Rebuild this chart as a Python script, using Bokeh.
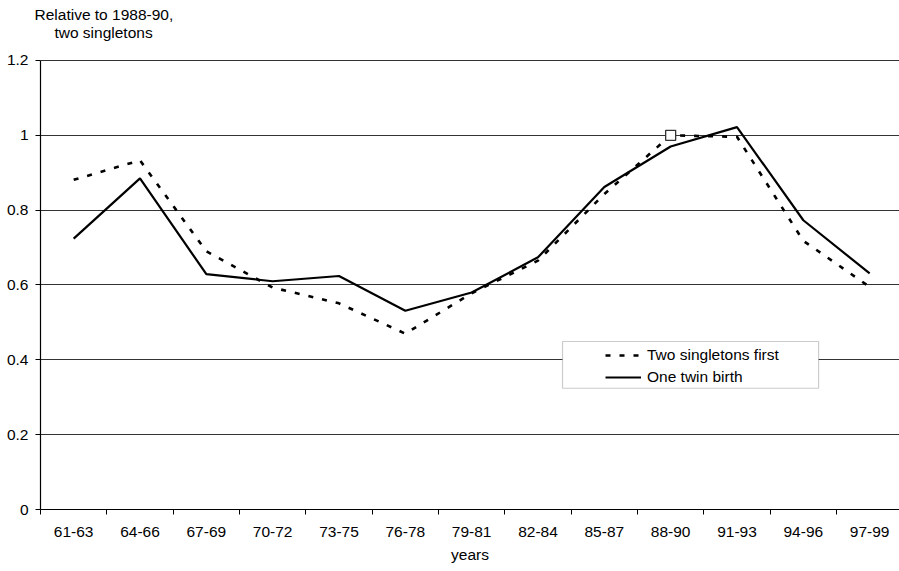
from bokeh.plotting import figure
from bokeh.models import (Range1d, FixedTicker, NumeralTickFormatter, Legend, LegendItem,
                          BoxAnnotation, Title, Label)
from bokeh.embed import file_html
from bokeh.resources import INLINE

categories = ["61-63", "64-66", "67-69", "70-72", "73-75", "76-78", "79-81",
              "82-84", "85-87", "88-90", "91-93", "94-96", "97-99"]
two_singletons_first = [0.881, 0.933, 0.690, 0.593, 0.551, 0.470, 0.578,
                        0.665, 0.843, 1.000, 0.996, 0.718, 0.595]
one_twin_birth = [0.724, 0.885, 0.629, 0.610, 0.624, 0.531, 0.580,
                  0.674, 0.862, 0.970, 1.022, 0.773, 0.631]
reference_category = "88-90"
y_ticks = [0, 0.2, 0.4, 0.6, 0.8, 1.0, 1.2]
y_title_lines = ["Relative to 1988-90,", "two singletons"]

FONT = "Liberation Sans"
FS = "15.5px"

n = len(categories)
xs = [i + 0.5 for i in range(n)]

W, H = 899, 571
# frame extends a little above 1.2 so the second title line can sit inside it
p = figure(width=W, height=H, output_backend="svg", toolbar_location=None, title=None,
           x_range=Range1d(0, 12.95), y_range=Range1d(0, 1.2935),
           min_border_left=40, min_border_right=0, min_border_top=25,
           min_border_bottom=62)
p.outline_line_color = None
p.background_fill_color = "white"
p.border_fill_color = "white"

# axes
p.xaxis.ticker = FixedTicker(ticks=xs, minor_ticks=list(range(n + 1)))
p.xaxis.major_label_overrides = {x: c for x, c in zip(xs, categories)}
p.xaxis.major_tick_line_color = None
p.xaxis.minor_tick_line_color = "black"
p.xaxis.minor_tick_out = 5
p.xaxis.minor_tick_in = 0
p.xaxis.major_label_standoff = 11
p.xaxis.axis_label = "years"
p.xaxis.axis_label_standoff = 6
p.xaxis.axis_label_text_font_style = "normal"

p.yaxis.ticker = FixedTicker(ticks=y_ticks)
p.yaxis.formatter = NumeralTickFormatter(format="0.[0]")
p.yaxis.bounds = (0, 1.2)
p.yaxis.major_tick_out = 5
p.yaxis.major_tick_in = 0
p.yaxis.minor_tick_line_color = None
p.yaxis.major_label_standoff = 7
p.yaxis.major_tick_line_color = "black"

for ax in (p.xaxis, p.yaxis):
    ax.axis_line_color = "black"
    ax.axis_line_width = 1.2
    ax.major_label_text_font = FONT
    ax.major_label_text_font_size = FS
    ax.major_label_text_color = "black"
    ax.axis_label_text_font = FONT
    ax.axis_label_text_font_size = FS
    ax.axis_label_text_color = "black"

p.xgrid.grid_line_color = None
p.ygrid.ticker = FixedTicker(ticks=y_ticks)
p.ygrid.grid_line_color = "#333333"
p.ygrid.grid_line_width = 1

# series
r_dash = p.line(xs, two_singletons_first, line_color="black", line_width=2.6,
                line_dash="5 9")
r_solid = p.line(xs, one_twin_birth, line_color="black", line_width=2.2)
ri = categories.index(reference_category)
p.scatter([xs[ri]], [two_singletons_first[ri]], marker="square", size=10,
          fill_color="white", line_color="#333333", line_width=1.3)

# legend box
box = BoxAnnotation(left=7.87, right=11.73, top=0.449, bottom=0.324,
                    fill_color="white", fill_alpha=1.0,
                    line_color="#555555", line_width=1.2)
p.add_layout(box)

legend = Legend(items=[LegendItem(label="Two singletons first", renderers=[r_dash]),
                       LegendItem(label="One twin birth", renderers=[r_solid])],
                location=(565, 122), orientation="vertical",
                padding=0, margin=0, spacing=2,
                glyph_width=36, glyph_height=20, label_height=20,
                label_standoff=6,
                border_line_color=None, background_fill_alpha=0.0,
                label_text_font=FONT, label_text_font_size=FS,
                label_text_color="black")
p.add_layout(legend)

# y-axis title at top-left: first line as a title, second as a label below it
p.add_layout(Title(text=y_title_lines[0], align="left", offset=-6, standoff=6,
                   text_font=FONT, text_font_size=FS, text_font_style="normal",
                   text_color="black"), "above")
p.add_layout(Label(x=0.95, y=1.2748, text=y_title_lines[1], text_align="center",
                   text_baseline="middle", text_font=FONT, text_font_size=FS,
                   text_color="black"))

open("out.html", "w").write(file_html(p, INLINE))
